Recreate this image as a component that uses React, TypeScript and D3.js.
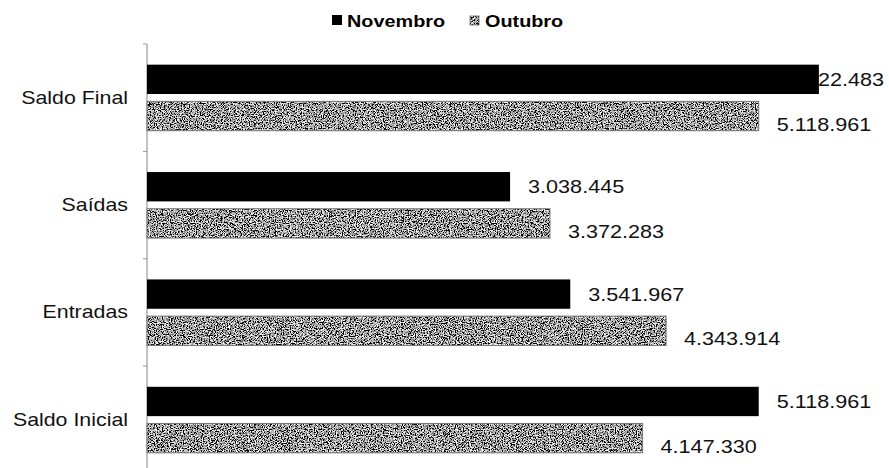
import React from "react";
import * as d3 from "d3";

// dados do gráfico
const categories = ["Saldo Final", "Saídas", "Entradas", "Saldo Inicial"];
const seriesNames = ["Novembro", "Outubro"];
const novembro = [5622483, 3038445, 3541967, 5118961];
const outubro = [5118961, 3372283, 4343914, 4147330];
const xMax = 6000000;

const W = 889;
const H = 468;
const left = 147;
const right = 864;
const top = 44;
const bottom = 473.5;

const STRETCH = 1.2; // o texto do original é largo
const LABEL_W = 99; // largura aproximada de um rótulo de valor

const ptBR = d3.formatLocale({
  decimal: ",",
  thousands: ".",
  grouping: [3],
  currency: ["R$", ""],
});
const fmt = ptBR.format(",d");

export default function App() {
  const xScale = d3.scaleLinear().domain([0, xMax]).range([left, right]);

  const yScale = d3
    .scaleBand<string>()
    .domain(categories)
    .range([top, bottom])
    .paddingInner(0.385)
    .paddingOuter(0.1925);

  const subScale = d3
    .scaleBand<string>()
    .domain(seriesNames)
    .range([0, yScale.bandwidth()])
    .paddingInner(0.2);

  const rows = categories.map((c, i) => ({
    category: c,
    values: [novembro[i], outubro[i]],
  }));

  const step = yScale.step();
  const boundaries = d3.range(categories.length + 1).map(
    (i) => (yScale(categories[0]) as number) - (step - yScale.bandwidth()) / 2 + i * step
  );

  const font = "'Liberation Sans', Arial, sans-serif";

  return (
    <svg
      width={W}
      height={H}
      style={{ position: "absolute", left: 0, top: 0, background: "#fff" }}
    >
      <defs>
        <filter id="grain" x="0" y="0" width="1" height="1">
          <feTurbulence
            type="fractalNoise"
            baseFrequency="0.85"
            numOctaves={2}
            seed={7}
            result="noise"
          />
          <feColorMatrix
            in="noise"
            type="matrix"
            values="2.2 2.2 2.2 0 -2.95  2.2 2.2 2.2 0 -2.95  2.2 2.2 2.2 0 -2.95  0 0 0 0 1"
            result="gray"
          />
          <feComposite in="gray" in2="SourceGraphic" operator="in" />
        </filter>
      </defs>

      {/* legenda */}
      <g fontFamily={font} fontSize={16} fontWeight="bold">
        {seriesNames.map((name, i) => (
          <g key={name} transform={`translate(${332 + i * 138}, 15)`}>
            {i === 0 ? (
              <rect x={0} y={0} width={10} height={10} fill="#000" />
            ) : (
              <>
                <rect x={0} y={1} width={9} height={9} filter="url(#grain)" fill="#000" />
                <rect x={0} y={1} width={9} height={9} fill="none" stroke="#666" strokeWidth={0.8} />
              </>
            )}
            <text
              transform={`translate(15, 12) scale(${STRETCH + 0.04}, 1)`}
              fill="#000"
            >
              {name}
            </text>
          </g>
        ))}
      </g>

      {/* eixo vertical */}
      <line x1={left} x2={left} y1={top} y2={H} stroke="#999" strokeWidth={1.2} />
      {boundaries.map((b, i) => (
        <line key={i} x1={left - 4} x2={left} y1={b} y2={b} stroke="#999" />
      ))}

      {/* rótulos das categorias */}
      <g fontFamily={font} fontSize={17.5}>
        {categories.map((c) => (
          <text
            key={c}
            transform={`translate(128, ${(yScale(c) as number) + yScale.bandwidth() / 2 + 6}) scale(${STRETCH + 0.02}, 1)`}
            textAnchor="end"
            fill="#111"
          >
            {c}
          </text>
        ))}
      </g>

      {/* rótulos dos valores (desenhados antes das barras) */}
      <g fontFamily={font} fontSize={18}>
        {rows.map((r) =>
          r.values.map((v, j) => {
            const y0 = (yScale(r.category) as number) + (subScale(seriesNames[j]) as number);
            const cy = y0 + subScale.bandwidth() / 2 + (j === 1 ? 8 : 0);
            const lx = Math.min(xScale(v) + 18, W - 2 - LABEL_W);
            return (
              <text
                key={`${r.category}-${j}`}
                transform={`translate(${lx}, ${cy + 6.5}) scale(${STRETCH}, 1)`}
                fill="#111"
              >
                {fmt(v)}
              </text>
            );
          })
        )}
      </g>

      {/* barras */}
      {rows.map((r) =>
        r.values.map((v, j) => {
          const y0 = (yScale(r.category) as number) + (subScale(seriesNames[j]) as number);
          const w = xScale(v) - xScale(0);
          return j === 0 ? (
            <rect
              key={`${r.category}-bar-${j}`}
              x={xScale(0)}
              y={y0}
              width={w}
              height={subScale.bandwidth()}
              fill="#000"
            />
          ) : (
            <g key={`${r.category}-bar-${j}`}>
              <rect
                x={xScale(0)}
                y={y0}
                width={w}
                height={subScale.bandwidth()}
                fill="#000"
                filter="url(#grain)"
              />
              <rect
                x={xScale(0)}
                y={y0}
                width={w}
                height={subScale.bandwidth()}
                fill="none"
                stroke="#777"
                strokeWidth={1}
              />
            </g>
          );
        })
      )}
    </svg>
  );
}
